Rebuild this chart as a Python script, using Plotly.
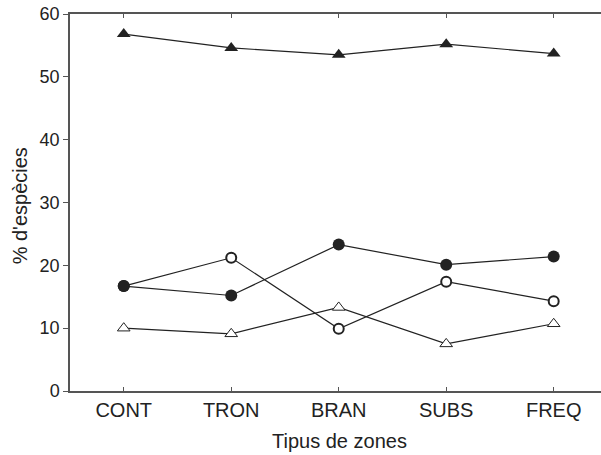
import plotly.graph_objects as go

categories = ["CONT", "TRON", "BRAN", "SUBS", "FREQ"]
filled_triangles = [56.8, 54.6, 53.5, 55.2, 53.7]
filled_circles = [16.7, 15.2, 23.3, 20.1, 21.4]
open_circles = [16.7, 21.2, 9.9, 17.4, 14.3]
open_triangles = [10.0, 9.1, 13.3, 7.5, 10.7]

ink = "#222222"
fig = go.Figure()

def add(vals, symbol, fill, size, lw):
    fig.add_trace(go.Scatter(
        x=categories, y=vals, mode="lines+markers",
        line=dict(color=ink, width=1.2),
        marker=dict(symbol=symbol, size=size, color=fill,
                    line=dict(color=ink, width=lw)),
        showlegend=False, cliponaxis=False))

add(open_triangles, "triangle-up", "white", 11, 1)
add(open_circles, "circle", "white", 10, 2)
add(filled_circles, "circle", ink, 12, 0)
add(filled_triangles, "triangle-up", ink, 12, 0)

fig.update_layout(
    width=601, height=455,
    margin=dict(l=70, r=0, t=14, b=64),
    paper_bgcolor="white", plot_bgcolor="white",
    font=dict(family="Liberation Sans, Arial, sans-serif", color=ink),
    xaxis=dict(
        type="category", range=[-0.5, 4.44], automargin=False,
        showline=True, linecolor="#555555", linewidth=1.5, mirror="ticks",
        ticks="inside", ticklen=4, tickcolor="#555555",
        showgrid=False, zeroline=False,
        tickfont=dict(size=20),
    ),
    yaxis=dict(
        range=[0, 60], tickvals=[0, 10, 20, 30, 40, 50, 60], automargin=False,
        showline=True, linecolor="#555555", linewidth=1.5,
        ticks="outside", ticklen=5, tickcolor="#555555",
        showgrid=False, zeroline=False,
        tickfont=dict(size=18),
    ),
    annotations=[
        dict(text="Tipus de zones", xref="paper", yref="paper",
             x=0.507, y=-0.133, xanchor="center", yanchor="middle",
             showarrow=False, font=dict(size=20)),
        dict(text="% d'espècies", xref="paper", yref="paper",
             x=-0.094, y=0.49, xanchor="center", yanchor="middle",
             textangle=-90, showarrow=False, font=dict(size=20)),
    ],
)

fig.write_html("out.html", config={"displayModeBar": False},
               post_script="document.body.style.margin='0';document.body.style.overflow='hidden';")
